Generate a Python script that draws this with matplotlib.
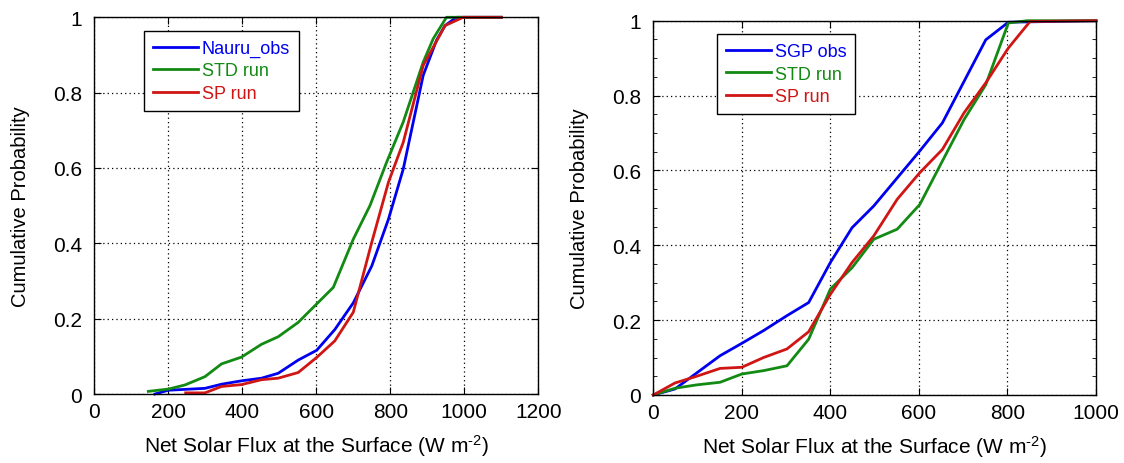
import numpy as np
import matplotlib.pyplot as plt
from matplotlib.ticker import MultipleLocator, FuncFormatter

plt.rcParams['font.family'] = ['Liberation Sans', 'DejaVu Sans']
plt.rcParams['mathtext.default'] = 'regular'

# ---- left panel: Nauru ----
nauru_obs_x = [164, 200, 299, 344, 398, 452, 497, 551, 601, 650, 700, 750, 795, 835, 889, 925, 948, 979, 1100]
nauru_obs_y = [0.0, 0.01, 0.015, 0.026, 0.035, 0.042, 0.055, 0.09, 0.116, 0.171, 0.242, 0.34, 0.464, 0.597, 0.846, 0.939, 0.978, 1.0, 1.0]
nauru_std_x = [146, 200, 245, 299, 344, 398, 452, 497, 551, 601, 646, 700, 745, 790, 835, 889, 916, 948, 952, 1100]
nauru_std_y = [0.007, 0.013, 0.024, 0.046, 0.08, 0.098, 0.132, 0.152, 0.19, 0.239, 0.283, 0.411, 0.5, 0.615, 0.722, 0.881, 0.943, 0.994, 1.0, 1.0]
nauru_sp_x = [247, 299, 344, 398, 452, 497, 551, 601, 650, 700, 750, 795, 835, 889, 948, 997, 1100]
nauru_sp_y = [0.003, 0.003, 0.02, 0.025, 0.038, 0.042, 0.057, 0.097, 0.141, 0.217, 0.403, 0.562, 0.668, 0.872, 0.978, 1.0, 1.0]

# ---- right panel: SGP ----
sgp_obs_x = [0, 49, 151, 200, 249, 302, 351, 400, 449, 498, 551, 602, 653, 702, 751, 802, 1000]
sgp_obs_y = [0.0, 0.016, 0.105, 0.138, 0.172, 0.212, 0.247, 0.354, 0.447, 0.505, 0.58, 0.652, 0.727, 0.838, 0.949, 0.996, 1.0]
sgp_std_x = [0, 49, 98, 151, 200, 249, 302, 351, 400, 449, 498, 551, 602, 653, 702, 751, 802, 845, 1000]
sgp_std_y = [0.0, 0.018, 0.027, 0.034, 0.056, 0.065, 0.078, 0.149, 0.283, 0.34, 0.416, 0.443, 0.509, 0.625, 0.736, 0.829, 0.994, 1.0, 1.0]
sgp_sp_x = [0, 49, 98, 151, 200, 249, 302, 351, 400, 449, 498, 551, 602, 653, 702, 751, 802, 851, 1000]
sgp_sp_y = [0.0, 0.032, 0.05, 0.071, 0.074, 0.1, 0.123, 0.169, 0.269, 0.354, 0.425, 0.523, 0.594, 0.656, 0.754, 0.834, 0.927, 0.998, 1.0]

xlabel = 'Net Solar Flux at the Surface (W m$^{\u2010 2}$)'
ylabel = 'Cumulative Probability'

BLUE = '#0000f0'
GREEN = '#138a13'
RED = '#d01515'


def yfmt(v, pos):
    return '%g' % round(v, 2)


def style_axes(ax, xmax, minor_y=False):
    ax.set_xlim(0, xmax)
    ax.set_ylim(0, 1)
    ax.xaxis.set_major_locator(MultipleLocator(200))
    ax.yaxis.set_major_locator(MultipleLocator(0.2))
    ax.yaxis.set_major_formatter(FuncFormatter(yfmt))
    if minor_y:
        ax.yaxis.set_minor_locator(MultipleLocator(0.05))
    ax.tick_params(which='both', direction='in', top=True, right=True, labelsize=15)
    ax.tick_params(which='major', length=5)
    ax.tick_params(which='minor', length=3)
    ax.tick_params(axis='y', pad=9)
    ax.tick_params(axis='x', pad=6)
    ax.grid(True, which='major', color='black', linestyle=(0, (1, 2.5)), linewidth=0.9)
    ax.set_axisbelow(True)
    for s in ax.spines.values():
        s.set_linewidth(1.0)
    ax.set_xlabel(xlabel, fontsize=15, labelpad=8)
    ax.set_ylabel(ylabel, fontsize=14.5, labelpad=16)


fig = plt.figure(figsize=(11.24, 4.64), dpi=100)
ax1 = fig.add_axes([0.0839, 0.1487, 0.395, 0.8119])
ax2 = fig.add_axes([0.5812, 0.1466, 0.3939, 0.8066])

legend_kw = dict(loc='upper left', borderaxespad=0, fancybox=False, edgecolor='black',
                 framealpha=1, fontsize=13, labelcolor='linecolor', handlelength=2.5,
                 handletextpad=0.2, labelspacing=0.3, borderpad=0.5)

ax1.plot(nauru_obs_x, nauru_obs_y, color=BLUE, lw=2, label='Nauru_obs', clip_on=False)
ax1.plot(nauru_std_x, nauru_std_y, color=GREEN, lw=2, label='STD run', clip_on=False)
ax1.plot(nauru_sp_x, nauru_sp_y, color=RED, lw=2, label='SP run', clip_on=False)
style_axes(ax1, 1200)
leg1 = ax1.legend(bbox_to_anchor=(0.112, 0.964), **legend_kw)
leg1.get_frame().set_linewidth(1.0)

ax2.plot(sgp_obs_x, sgp_obs_y, color=BLUE, lw=2, label='SGP obs', clip_on=False)
ax2.plot(sgp_std_x, sgp_std_y, color=GREEN, lw=2, label='STD run', clip_on=False)
ax2.plot(sgp_sp_x, sgp_sp_y, color=RED, lw=2, label='SP run', clip_on=False)
style_axes(ax2, 1000, minor_y=True)
leg2 = ax2.legend(bbox_to_anchor=(0.144, 0.964), **legend_kw)
leg2.get_frame().set_linewidth(1.0)

fig.savefig('out.png', dpi=100)
